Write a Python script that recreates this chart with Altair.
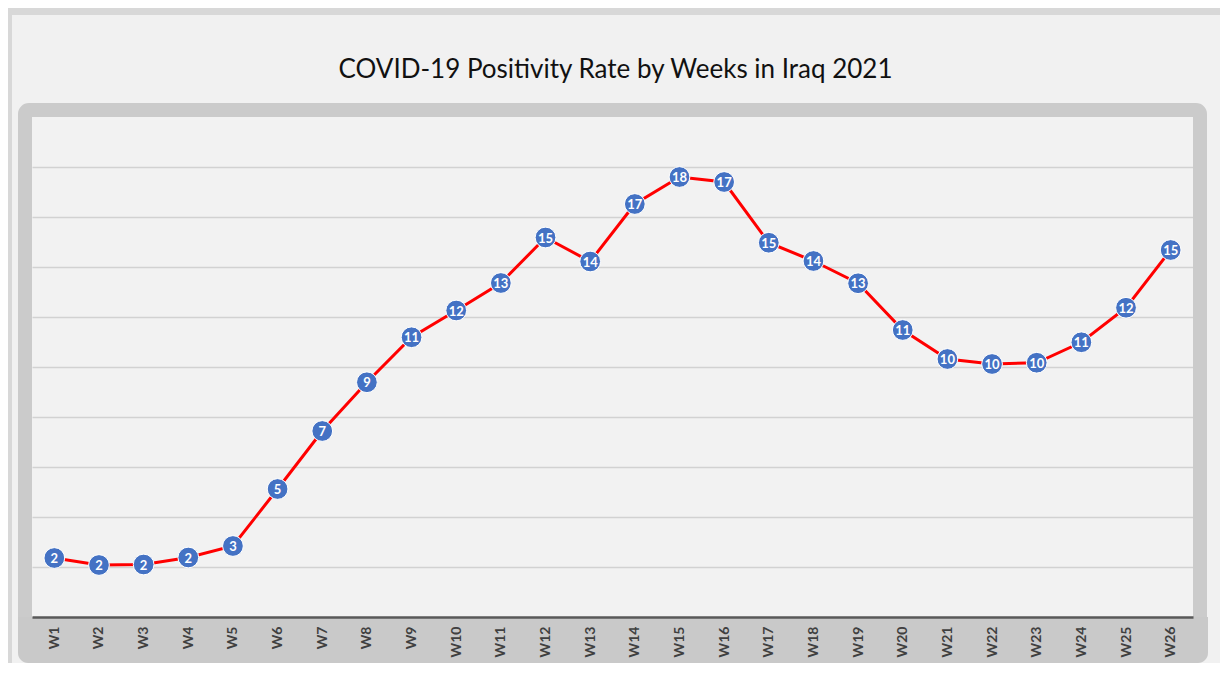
import altair as alt
import pandas as pd

weeks = ["W1", "W2", "W3", "W4", "W5", "W6", "W7", "W8", "W9", "W10", "W11", "W12", "W13",
         "W14", "W15", "W16", "W17", "W18", "W19", "W20", "W21", "W22", "W23", "W24", "W25", "W26"]
rates = [2.36, 2.08, 2.10, 2.38, 2.84, 5.12, 7.44, 9.39, 11.19, 12.26, 13.36, 15.18, 14.22,
         16.52, 17.60, 17.40, 14.97, 14.24, 13.35, 11.48, 10.32, 10.12, 10.17, 10.99, 12.37, 14.68]
shown = ["2", "2", "2", "2", "3", "5", "7", "9", "11", "12", "13", "15", "14",
         "17", "18", "17", "15", "14", "13", "11", "10", "10", "10", "11", "12", "15"]
grid_values = [2, 4, 6, 8, 10, 12, 14, 16, 18]
title_text = "COVID-19 Positivity Rate by Weeks in Iraq 2021"

df = pd.DataFrame({"week": weeks, "rate": rates, "label": shown})
one = pd.DataFrame({"d": [0]})

PW, PH = 1161, 500

x_enc = alt.X("week:N", sort=weeks, scale=alt.Scale(type="point", padding=0.5),
              axis=alt.Axis(title=None, labelAngle=270, labelFont="Lato", labelFontWeight="bold",
                            labelFontSize=14, labelColor="#404040", ticks=False, tickSize=0,
                            labelPadding=9, domainColor="#595959", domainWidth=2.5, zindex=1))
y_enc = alt.Y("rate:Q", scale=alt.Scale(domain=[0, 20], nice=False, zero=True),
              axis=alt.Axis(title=None, values=grid_values, labels=False, ticks=False, domain=False,
                            grid=True, gridColor="#d2d2d2", gridWidth=1.5))

# decorative frame pieces
outer_top = alt.Chart(one).mark_rect(fill="#d8d8d8").encode(
    x=alt.value(-24), x2=alt.value(PW + 30), y=alt.value(-109), y2=alt.value(-102))
outer_left = alt.Chart(one).mark_rect(fill="#d8d8d8").encode(
    x=alt.value(-24), x2=alt.value(-20), y=alt.value(-109), y2=alt.value(PH + 50))
frame = alt.Chart(one).mark_rect(filled=False, stroke="#cbcbcb", strokeWidth=14, cornerRadius=4).encode(
    x=alt.value(-7), x2=alt.value(PW + 7), y=alt.value(-7), y2=alt.value(PH + 7))
band = alt.Chart(one).mark_rect(fill="#c9c9c9", cornerRadiusBottomLeft=10, cornerRadiusBottomRight=10).encode(
    x=alt.value(-14), x2=alt.value(PW + 15), y=alt.value(PH), y2=alt.value(PH + 46))
title = alt.Chart(one).mark_text(text=title_text, font="Lato", fontSize=26, color="#111111",
                                 align="center", baseline="middle").encode(
    x=alt.value(PW / 2 + 3), y=alt.value(-47))

base = alt.Chart(df)
line = base.mark_line(color="#ff0000", strokeWidth=3).encode(x=x_enc, y=y_enc)
pts = base.mark_point(filled=True, size=430, color="#4472c4", stroke="#ffffff", strokeWidth=1,
                      opacity=1, shape="circle").encode(x=x_enc, y=y_enc)
txt = base.mark_text(color="#ffffff", font="Lato", fontWeight="bold", fontSize=13,
                     align="center", baseline="middle", dy=1).encode(x=x_enc, y=y_enc, text="label:N")

chart = alt.layer(outer_top, outer_left, frame, band, title, line, pts, txt).properties(
    width=PW, height=PH,
    padding={"left": 24, "top": 109, "right": 27, "bottom": 46},
    autosize=alt.AutoSizeParams(type="none"),
    background="#f1f1f1",
).configure_view(fill="#f2f2f2", strokeWidth=0)

chart.save("out.html", embed_options={"renderer": "svg", "actions": False})
